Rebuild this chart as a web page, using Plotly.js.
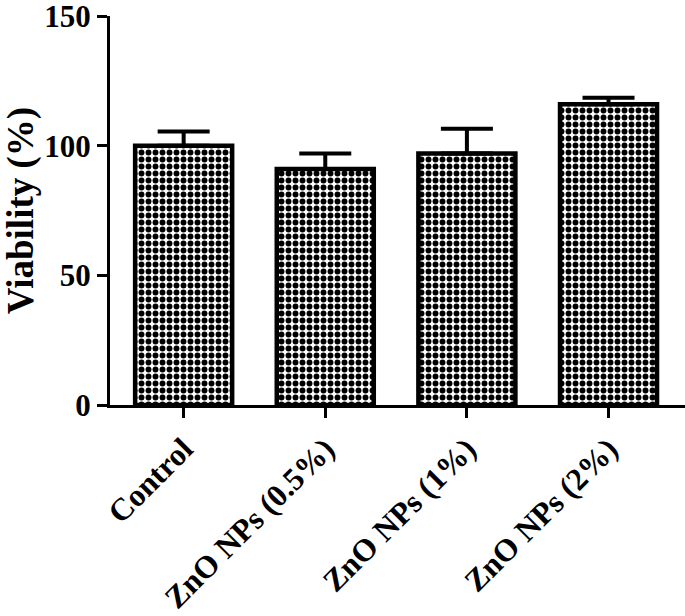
<!DOCTYPE html>
<html>
<head>
<meta charset="utf-8">
<script src="https://cdn.plot.ly/plotly-3.0.1.min.js"></script>
<style>
  html, body { margin: 0; padding: 0; background: #fff; }
  #chart { width: 685px; height: 616px; }
</style>
</head>
<body>
<div id="chart"></div>
<script>
	/* Data */
	var groups = ['Control', 'ZnO NPs (0.5%)', 'ZnO NPs (1%)', 'ZnO NPs (2%)'];
	var viability = [100, 91, 97, 116];
	var errUp = [5.5, 6, 9.5, 2.5];
	var errDown = [0, 0, 0, 0];
	var yTicks = [0, 50, 100, 150];

	var serif = '"Liberation Serif", "Times New Roman", Times, serif';

	var trace = {
		type: 'bar',
		x: groups,
		y: viability,
		width: 0.685,
		marker: {
			color: 'white',
			line: { color: 'black', width: 4.5 },
			pattern: {
				shape: '.',
				size: 7,
				solidity: 0.55,
				fgcolor: 'black',
				bgcolor: 'white',
				fillmode: 'replace'
			}
		},
		error_y: {
			type: 'data',
			symmetric: false,
			array: errUp,
			arrayminus: errDown,
			color: 'black',
			thickness: 4,
			width: 26
		},
		hoverinfo: 'skip'
	};

	var layout = {
		width: 685,
		height: 616,
		margin: { l: 110, r: 0, t: 16, b: 211 },
		paper_bgcolor: 'white',
		plot_bgcolor: 'white',
		showlegend: false,
		xaxis: {
			type: 'category',
			range: [-0.52, 3.54],
			showline: true,
			linecolor: 'black',
			linewidth: 3,
			ticks: 'outside',
			ticklen: 10,
			tickwidth: 3,
			tickcolor: 'black',
			tickangle: -45,
			showgrid: false,
			zeroline: false,
			tickfont: { family: serif, size: 31.5, color: 'black', weight: 'bold' }
		},
		yaxis: {
			range: [0, 150],
			tickvals: yTicks,
			ticktext: yTicks.map(String),
			ticklabeloverflow: 'allow',
			showline: true,
			linecolor: 'black',
			linewidth: 3,
			ticks: 'outside',
			ticklen: 10,
			tickwidth: 3,
			tickcolor: 'black',
			showgrid: false,
			zeroline: false,
			tickfont: { family: serif, size: 31, color: 'black', weight: 'bold' },
			title: {
				text: 'Viability (%)',
				standoff: 20,
				font: { family: serif, size: 37, color: 'black', weight: 'bold' }
			}
		}
	};

	Plotly.newPlot('chart', [trace], layout, { displayModeBar: false, staticPlot: true });
</script>
</body>
</html>
